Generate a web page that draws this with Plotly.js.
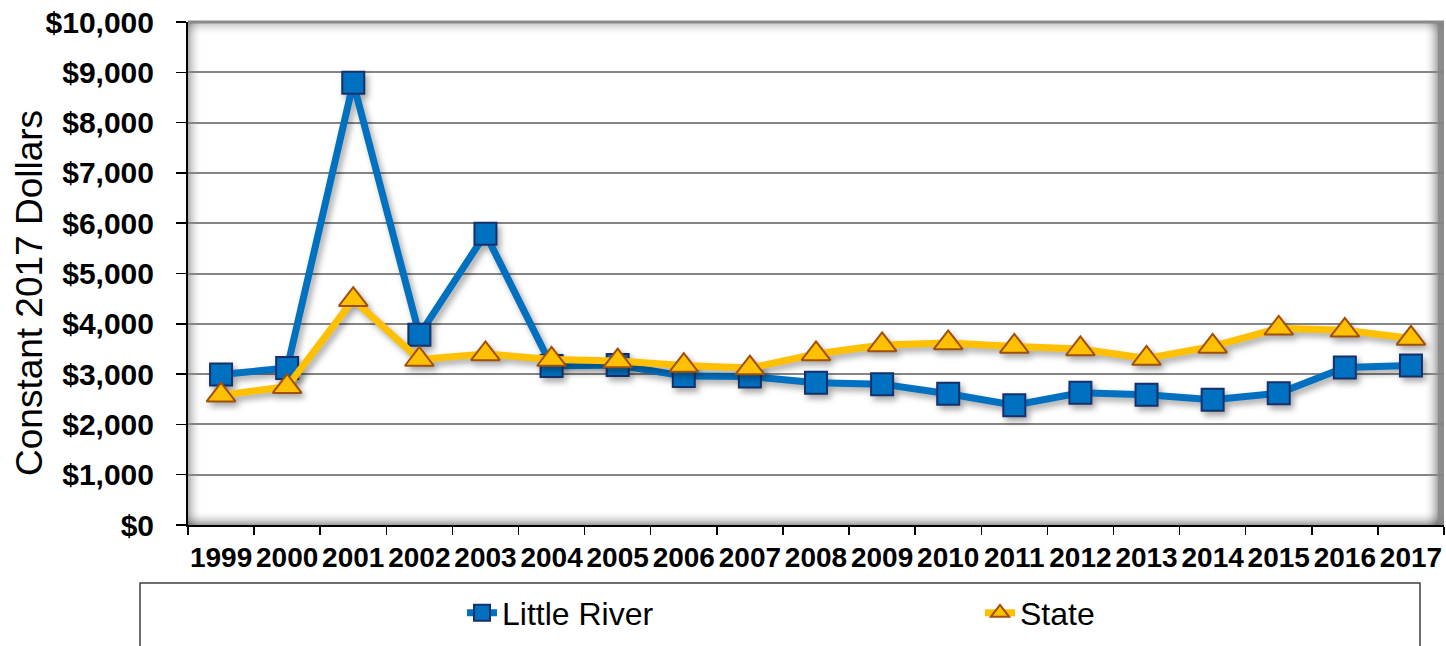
<!DOCTYPE html>
<html><head><meta charset="utf-8">
<script src="https://cdn.plot.ly/plotly-3.0.1.min.js"></script>
<style>
html,body{margin:0;padding:0;background:#fff;}
#chart{width:1446px;height:646px;}
.scatterlayer .trace{filter:drop-shadow(3px 4px 3px rgba(0,0,0,0.35));}
</style></head><body><div id="chart"></div>
<script>
const years = ['1999','2000','2001','2002','2003','2004','2005','2006','2007','2008','2009','2010','2011','2012','2013','2014','2015','2016','2017'];
const littleRiver = [2990, 3120, 8790, 3780, 5790, 3160, 3180, 2960, 2950, 2830, 2800, 2610, 2380, 2630, 2590, 2490, 2620, 3130, 3170];
const state = [2580, 2750, 4480, 3290, 3400, 3290, 3260, 3170, 3120, 3400, 3580, 3620, 3550, 3500, 3310, 3550, 3910, 3870, 3710];
const seriesNames = ['Little River', 'State'];
const yTitle = 'Constant 2017 Dollars';

const W = 1446, H = 646;
const M = {l:188, r:2, t:22, b:121};
const PW = W - M.l - M.r, PH = H - M.t - M.b;
const px = v => v / PW, py = v => v / PH;

const shapes = [];
const N = 14;
for (let i = 0; i < N; i++) {
  const a = 0.30 * Math.pow(1 - i / N, 2);
  shapes.push({type:'rect', xref:'paper', yref:'paper', layer:'below', x0:px(i), x1:px(i+1), y0:0, y1:1, fillcolor:'rgba(0,0,0,'+a+')', line:{width:0}});
  shapes.push({type:'rect', xref:'paper', yref:'paper', layer:'below', x0:0, x1:1, y0:1-py(i+1), y1:1-py(i), fillcolor:'rgba(0,0,0,'+(a*0.8)+')', line:{width:0}});
  shapes.push({type:'rect', xref:'paper', yref:'paper', layer:'below', x0:0, x1:1, y0:py(i), y1:py(i+1), fillcolor:'rgba(0,0,0,'+(a*1.2)+')', line:{width:0}});
  shapes.push({type:'rect', xref:'paper', yref:'paper', layer:'below', x0:1-px(i+7), x1:1-px(i+6), y0:0, y1:1, fillcolor:'rgba(0,0,0,'+(a*1.1)+')', line:{width:0}});
}
shapes.push({type:'rect', xref:'paper', yref:'paper', layer:'below', x0:1-px(6), x1:1, y0:0, y1:1, fillcolor:'rgba(120,120,120,0.85)', line:{width:0}});
shapes.push({type:'line', xref:'paper', yref:'paper', layer:'below', x0:0, x1:1, y0:1, y1:1, line:{color:'#8a8a8a', width:3}});
shapes.push({type:'rect', xref:'paper', yref:'paper', x0:px(140-M.l), x1:px(1420-M.l), y0:-py(680-525), y1:-py(583-525), fillcolor:'rgba(0,0,0,0)', line:{color:'#404040', width:1.5}});

const traces = [
  {x: years, y: littleRiver, name: seriesNames[0], type:'scatter', mode:'lines+markers', legend:'legend',
   line:{color:'#0070C0', width:7}, marker:{symbol:'square', size:22, color:'#0070C0', line:{color:'#17306B', width:2}}},
  {x: years, y: state, name: seriesNames[1], type:'scatter', mode:'lines+markers', legend:'legend2',
   line:{color:'#FFC000', width:7}, marker:{symbol:'triangle-up', size:25, color:'#FFC000', line:{color:'#A0500A', width:2}}}
];

const FF = 'Liberation Sans, Arial, sans-serif';
const legFont = {family:FF, size:32, color:'#000'};
const layout = {
  width: W, height: H,
  margin: M,
  paper_bgcolor:'#ffffff', plot_bgcolor:'#ffffff',
  showlegend:true,
  legend:{orientation:'h', x:px(462-M.l), y:-py(613-525), xanchor:'left', yanchor:'middle', font:legFont, bgcolor:'rgba(0,0,0,0)'},
  legend2:{orientation:'h', x:px(980-M.l), y:-py(613-525), xanchor:'left', yanchor:'middle', font:legFont, bgcolor:'rgba(0,0,0,0)'},
  xaxis:{type:'category', range:[-0.5, 18.5], showgrid:false, zeroline:false, tickangle:0,
    showline:true, linecolor:'#000', linewidth:2, ticks:'outside', tickson:'boundaries', ticklen:8, tickcolor:'#000', tickwidth:1.5,
    tickfont:{family:FF, size:28, color:'#000', weight:'bold'}, ticklabelstandoff:6, fixedrange:true},
  yaxis:{range:[0, 10000], dtick:1000, tickprefix:'$', tickformat:',d',
    showgrid:true, gridcolor:'#858585', gridwidth:2, zeroline:false,
    showline:true, linecolor:'#000', linewidth:2, ticks:'outside', ticklen:10, tickcolor:'#000', tickwidth:1.5,
    tickfont:{family:FF, size:30, color:'#000', weight:'bold'}, ticklabelstandoff:16, fixedrange:true},
  annotations:[{text:yTitle, xref:'paper', yref:'paper', x:px(29-M.l), y:py(525-293), xanchor:'center', yanchor:'middle',
    textangle:-90, showarrow:false, font:{family:FF, size:37, color:'#000'}}],
  shapes: shapes
};
Plotly.newPlot('chart', traces, layout, {displayModeBar:false, staticPlot:true});
</script></body></html>
